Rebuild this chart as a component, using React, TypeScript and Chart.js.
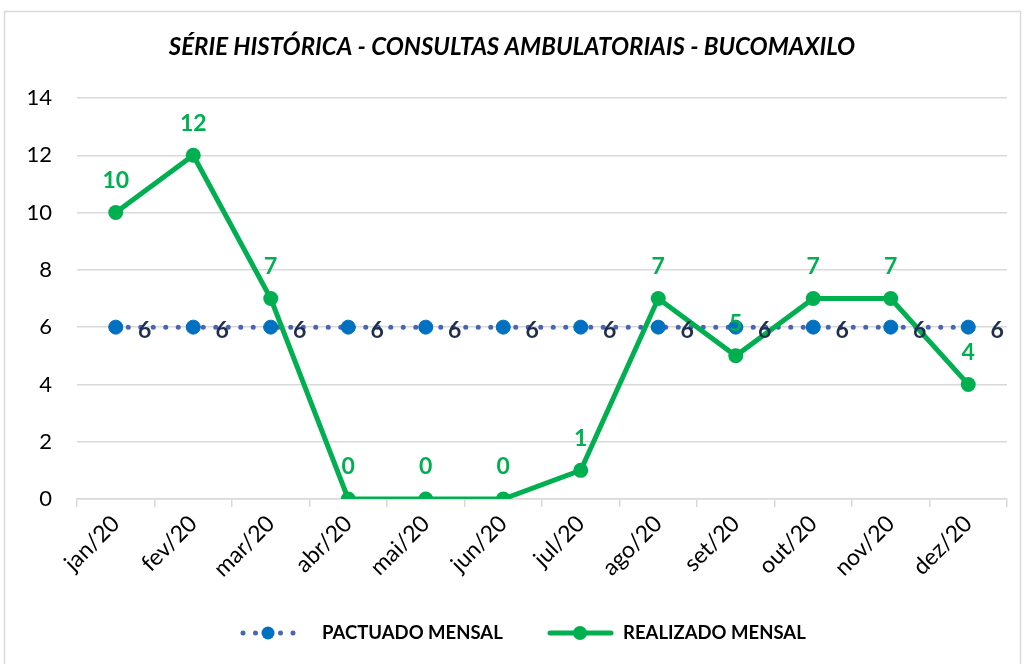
import React, { useEffect, useRef } from 'react';
import { Chart, registerables } from 'chart.js';

Chart.register(...registerables);

const categories = ['jan/20', 'fev/20', 'mar/20', 'abr/20', 'mai/20', 'jun/20', 'jul/20', 'ago/20', 'set/20', 'out/20', 'nov/20', 'dez/20'];
const pactuado = [6, 6, 6, 6, 6, 6, 6, 6, 6, 6, 6, 6];
const realizado = [10, 12, 7, 0, 0, 0, 1, 7, 5, 7, 7, 4];
const yMin = 0;
const yMax = 14;
const yStep = 2;
const chartTitle = 'SÉRIE HISTÓRICA - CONSULTAS AMBULATORIAIS - BUCOMAXILO';
const seriesNames = ['PACTUADO MENSAL', 'REALIZADO MENSAL'];

const FONT = 'Lato, "Open Sans", sans-serif';
const GREEN = '#00B050';
const BLUE_DOT = '#4A64B4';
const BLUE_MARK = '#0070C0';
const NAVY = '#1F2D50';
const GRID = '#d9d9d9';

const customPlugin = {
  id: 'custom',
  beforeDraw(chart: any) {
    const ctx = chart.ctx;
    ctx.save();
    ctx.fillStyle = '#ffffff';
    ctx.fillRect(0, 0, chart.width, chart.height);
    ctx.strokeStyle = GRID;
    ctx.lineWidth = 1.5;
    ctx.strokeRect(4.5, 11.5, 1016, 700);
    ctx.restore();
  },
  afterDraw(chart: any) {
    const ctx = chart.ctx;
    ctx.save();
    // title
    ctx.fillStyle = '#000';
    ctx.font = `italic bold 24px ${FONT}`;
    ctx.textAlign = 'center';
    ctx.textBaseline = 'middle';
    ctx.fillText(chartTitle, 512, 47);

    // data labels
    const metaP = chart.getDatasetMeta(0);
    const metaR = chart.getDatasetMeta(1);
    ctx.font = `bold 23px ${FONT}`;
    ctx.fillStyle = NAVY;
    metaP.data.forEach((pt: any, i: number) => {
      ctx.fillText(String(pactuado[i]), pt.x + 29, pt.y + 3);
    });
    ctx.fillStyle = GREEN;
    metaR.data.forEach((pt: any, i: number) => {
      ctx.fillText(String(realizado[i]), pt.x, pt.y - 32);
    });

    // legend
    const ly = 633;
    ctx.lineCap = 'round';
    ctx.strokeStyle = BLUE_DOT;
    ctx.lineWidth = 5;
    ctx.setLineDash([0, 12.5]);
    ctx.beginPath();
    ctx.moveTo(243, ly);
    ctx.lineTo(296, ly);
    ctx.stroke();
    ctx.setLineDash([]);
    ctx.fillStyle = BLUE_MARK;
    ctx.beginPath();
    ctx.arc(268, ly, 6.5, 0, Math.PI * 2);
    ctx.fill();

    ctx.strokeStyle = GREEN;
    ctx.lineWidth = 5;
    ctx.beginPath();
    ctx.moveTo(550, ly);
    ctx.lineTo(611, ly);
    ctx.stroke();
    ctx.fillStyle = GREEN;
    ctx.beginPath();
    ctx.arc(580, ly, 7, 0, Math.PI * 2);
    ctx.fill();

    ctx.fillStyle = '#000';
    ctx.font = `bold 18.5px ${FONT}`;
    ctx.textAlign = 'left';
    ctx.fillText(seriesNames[0], 322, ly);
    ctx.fillText(seriesNames[1], 623, ly);
    ctx.restore();
  },
};

export default function App() {
  const ref = useRef<HTMLCanvasElement>(null);
  useEffect(() => {
    document.body.style.margin = '0';
    const chart = new Chart(ref.current as HTMLCanvasElement, {
      type: 'line',
      data: {
        labels: categories,
        datasets: [
          {
            label: seriesNames[0],
            data: pactuado,
            borderColor: BLUE_DOT,
            borderWidth: 5,
            borderDash: [0, 12.5],
            borderCapStyle: 'round',
            pointRadius: 7,
            pointBackgroundColor: BLUE_MARK,
            pointBorderColor: BLUE_MARK,
            pointBorderWidth: 1,
            tension: 0,
            order: 1,
          },
          {
            label: seriesNames[1],
            data: realizado,
            borderColor: GREEN,
            borderWidth: 5,
            pointRadius: 7.5,
            pointBackgroundColor: GREEN,
            pointBorderColor: GREEN,
            pointBorderWidth: 0,
            tension: 0,
            order: 0,
          },
        ],
      },
      options: {
        animation: false,
        responsive: false,
        maintainAspectRatio: false,
        layout: { padding: { left: 0, right: 17, top: 98, bottom: 65 } },
        plugins: {
          legend: { display: false },
          title: { display: false },
          tooltip: { enabled: false },
        },
        scales: {
          x: {
            offset: true,
            afterFit: (s: any) => { s.height = 100; },
            grid: {
              display: true,
              offset: true,
              drawOnChartArea: false,
              drawTicks: true,
              tickLength: 8,
              color: GRID,
              lineWidth: 1.5,
            },
            border: { display: true, color: GRID, width: 1.5 },
            ticks: {
              color: '#000',
              font: { family: FONT, size: 23 },
              minRotation: 45,
              maxRotation: 45,
              padding: 3,
            },
          },
          y: {
            min: yMin,
            max: yMax,
            afterFit: (s: any) => { s.width = 77; },
            grid: { color: GRID, lineWidth: 1.5, drawTicks: false },
            border: { display: false },
            ticks: {
              stepSize: yStep,
              color: '#000',
              font: { family: FONT, size: 22 },
              padding: 25,
            },
          },
        },
      },
      plugins: [customPlugin],
    } as any);
    return () => chart.destroy();
  }, []);
  return (
    <div style={{ width: 1024, height: 664 }}>
      <canvas ref={ref} width={1024} height={664} style={{ display: 'block' }} />
    </div>
  );
}
